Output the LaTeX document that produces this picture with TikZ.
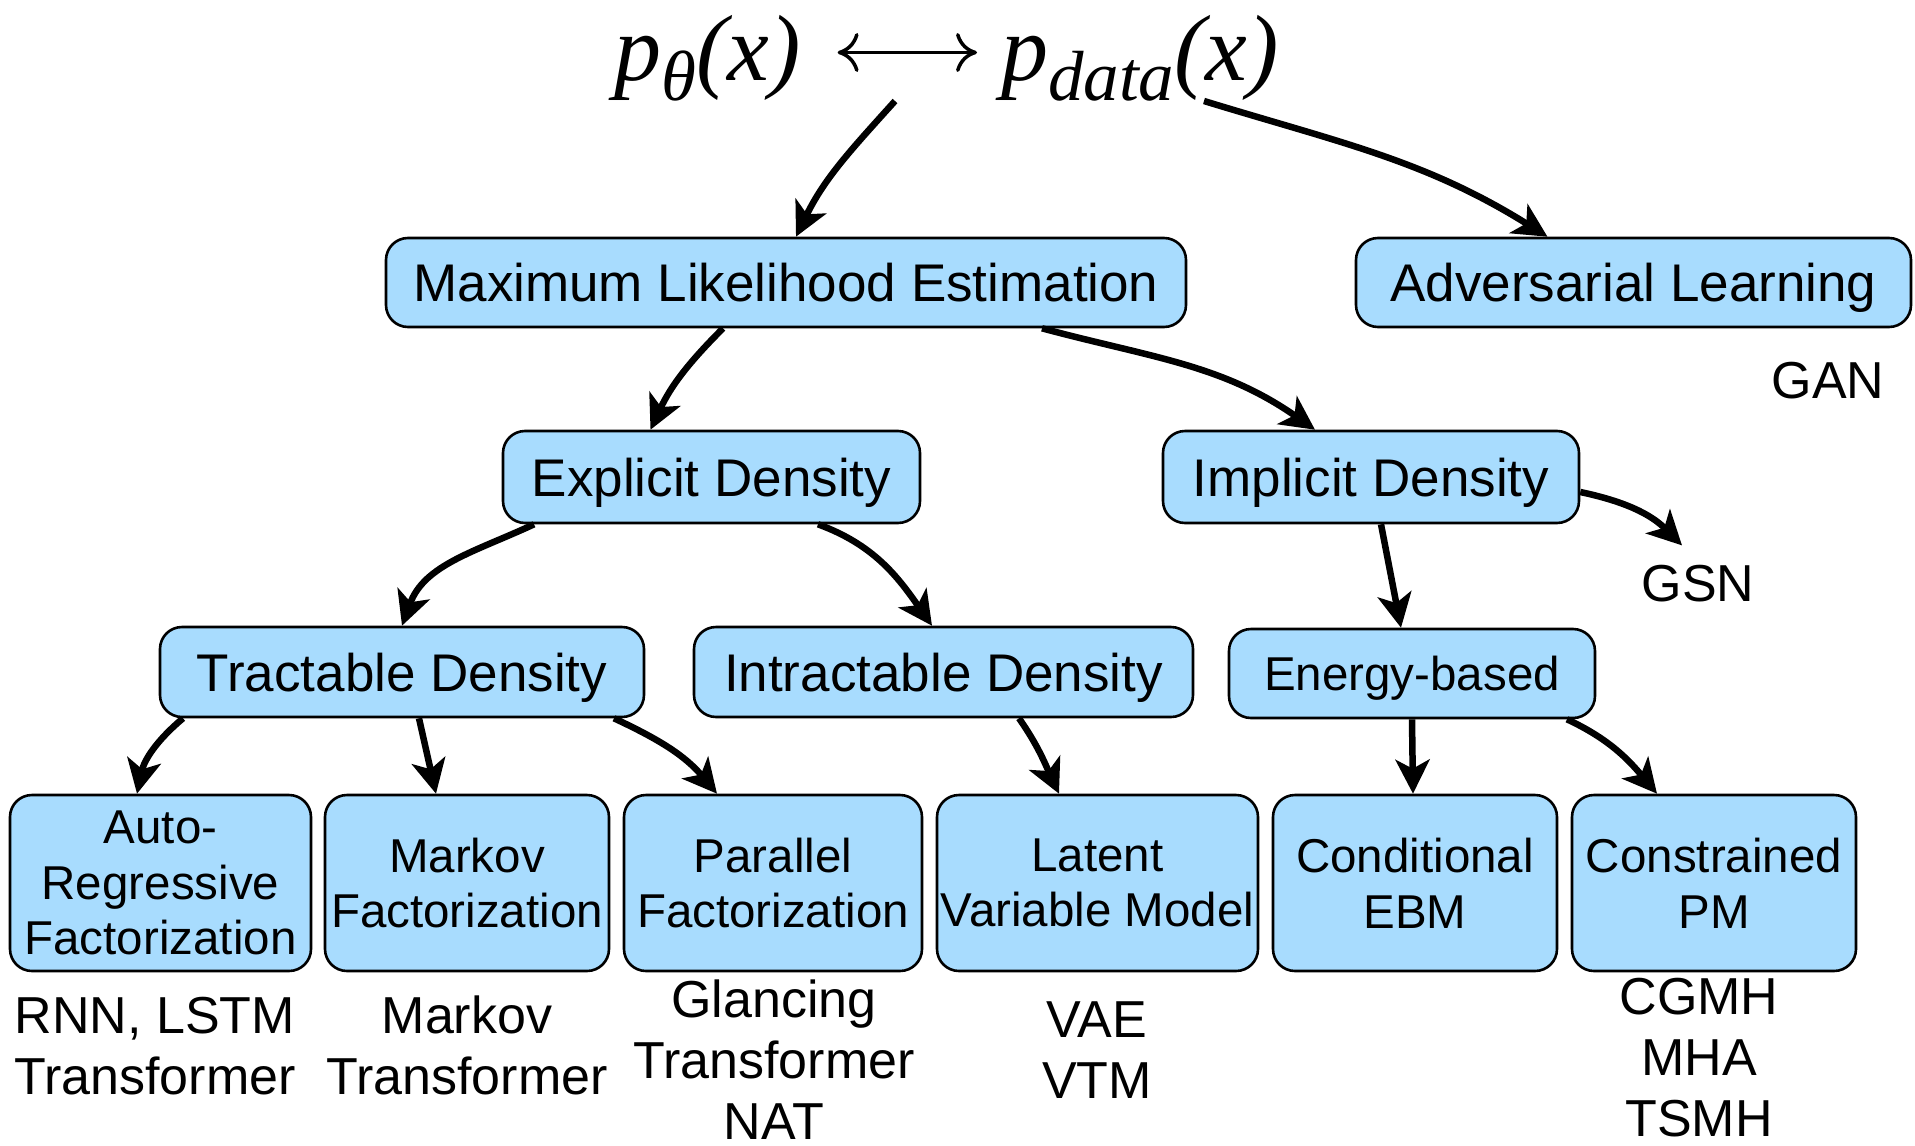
\documentclass[tikz,border=0pt]{standalone}
\usepackage{fontspec}
\setmainfont{Liberation Sans}
\newfontfamily\tms{Liberation Serif}
\usetikzlibrary{arrows.meta}
\definecolor{boxfill}{RGB}{168,220,254}
\begin{document}
\begin{tikzpicture}[x=1pt,y=-1pt,
  box/.style={draw=black, line width=2.6pt, fill=boxfill, rounded corners=22pt,
              inner sep=0pt, align=center},
  big/.style={font=\fontsize{53}{60}\selectfont},
  small/.style={font=\fontsize{47.5}{55.6}\selectfont},
  bigline/.style={big, text height=38pt, text depth=0pt},
  smallline/.style={small, text height=34pt, text depth=0pt},
  lbl/.style={font=\fontsize{52}{61}\selectfont, align=center, inner sep=0pt},
  formula/.style={anchor=base west, inner sep=0pt, font=\tms\itshape\fontsize{94}{94}\selectfont},
  conn/.style={line width=6.5pt, -{Stealth[length=34pt,width=34pt,inset=9pt]}},
  dbl/.style={line width=3.5pt,
              {Computer Modern Rightarrow[length=21pt,width=39pt]}-{Computer Modern Rightarrow[length=21pt,width=39pt]}},
]
\useasboundingbox (0,0) rectangle (1915,1146);

% top formula
\node[formula] (ptheta) at (614,80) {p\raisebox{-20pt}{\fontsize{71}{71}\selectfont θ}(x)};
\node[formula] (pdata) at (1001,80) {p\raisebox{-20pt}{\fontsize{71}{71}\selectfont data}(x)};
\draw[dbl] ([xshift=37pt,yshift=27.5pt]ptheta.base east) -- ([xshift=-24pt,yshift=27.5pt]pdata.base west);
\coordinate (forkL) at (895,101);
\coordinate (forkR) at (1204,101);

% first level
\node[box,bigline,minimum width=800pt,minimum height=89pt] (mle) at (786,282.5) {Maximum Likelihood Estimation};
\node[box,bigline,minimum width=555pt,minimum height=89pt] (adv) at (1633.5,282.5) {Adversarial Learning};
\node[lbl] (gan) at (1828,381) {GAN};

% second level
\node[box,bigline,minimum width=417pt,minimum height=92pt] (expl) at (711.5,477) {Explicit Density};
\node[box,bigline,minimum width=416pt,minimum height=92pt] (impl) at (1371,477) {Implicit Density};
\node[lbl] (gsn) at (1698,584) {GSN};

% third level
\node[box,bigline,minimum width=484pt,minimum height=90pt] (tract) at (402,672) {Tractable Density};
\node[box,bigline,minimum width=499pt,minimum height=90pt] (intract) at (943.5,672) {Intractable Density};
\node[box,smallline,minimum width=366pt,minimum height=89pt] (energy) at (1412,673.5) {Energy-based};

% fourth level
\node[box,small,minimum width=301pt,minimum height=176pt] (auto) at (160.5,883) {Auto-\\Regressive\\Factorization};
\node[box,small,minimum width=284pt,minimum height=176pt] (markov) at (467,883) {Markov\\Factorization};
\node[box,small,minimum width=298pt,minimum height=176pt] (par) at (773,883) {Parallel\\Factorization};
\node[box,small,minimum width=321pt,minimum height=176pt] (latent) at (1097.5,883) {Latent\\Variable Model};
\node[box,small,minimum width=284pt,minimum height=176pt] (cond) at (1415,883) {Conditional\\EBM};
\node[box,small,minimum width=284pt,minimum height=176pt] (cons) at (1714,883) {Constrained\\PM};

% model examples
\node[lbl] (exauto) at (155,1046) {RNN, LSTM\\Transformer};
\node[lbl] (exmarkov) at (467,1045) {Markov\\Transformer};
\node[lbl] (expar) at (774,1060) {Glancing\\Transformer\\NAT};
\node[lbl] (exlatent) at (1097,1050) {VAE\\VTM};
\node[lbl] (excons) at (1699,1058) {CGMH\\MHA\\TSMH};

% connectors
\draw[conn] (forkL) to[out=-132,in=64] ([xshift=10pt]mle.north);
\draw[conn] (forkR) to[out=-17,in=148] ([xshift=-86pt]adv.north);
\draw[conn] ([xshift=-63pt]mle.south) to[out=-135,in=65] ([xshift=-61pt]expl.north);
\draw[conn] ([xshift=256pt]mle.south) to[out=-15,in=145] ([xshift=-56pt]impl.north);
\draw[conn] ([xshift=-177.5pt]expl.south) to[out=-155,in=70] (tract.north);
\draw[conn] ([xshift=106.5pt]expl.south) to[out=-20,in=125] ([xshift=-11.5pt]intract.north);
\draw[conn] ([xshift=10pt]impl.south) -- ([xshift=-11pt]energy.north);
\draw[conn] ([yshift=-15pt]impl.east) to[out=-12,in=135] ([xshift=-16pt,yshift=20pt]gsn.north);
\draw[conn] ([xshift=-219pt]tract.south) to[out=-140,in=78] ([xshift=-23.5pt]auto.north);
\draw[conn] ([xshift=17pt]tract.south) -- ([xshift=-31pt]markov.north);
\draw[conn] ([xshift=212pt]tract.south) to[out=-25,in=130] ([xshift=-56pt]par.north);
\draw[conn] ([xshift=75.5pt]intract.south) to[out=-55,in=115] ([xshift=-38.5pt]latent.north);
\draw[conn] (energy.south) -- ([xshift=-2pt]cond.north);
\draw[conn] ([xshift=155pt]energy.south) to[out=-25,in=130] ([xshift=-57pt]cons.north);
\end{tikzpicture}
\end{document}
